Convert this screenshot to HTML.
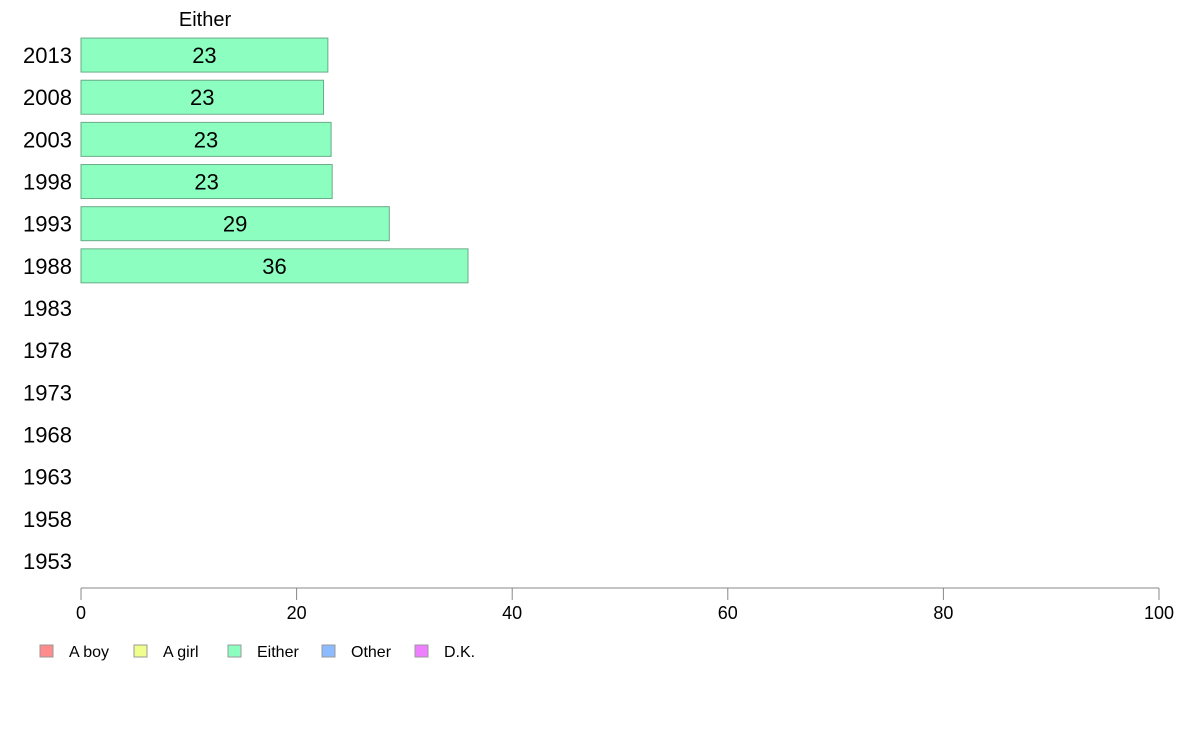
<!DOCTYPE html>
<html><head><meta charset="utf-8"><style>
body{margin:0;background:#fff;font-family:"Liberation Sans",Arial,sans-serif}
</style></head><body>
<svg width="1188" height="736" xmlns="http://www.w3.org/2000/svg" font-family="Liberation Sans, Arial, sans-serif">
<text x="205" y="26" font-size="20" text-anchor="middle">Either</text>
<g id="bars"></g><g id="ylab"></g><g id="xaxis"></g><g id="legend"></g>
</svg>
<script>
const years=["2013","2008","2003","1998","1993","1988","1983","1978","1973","1968","1963","1958","1953"];
const eitherValues=[22.9,22.5,23.2,23.3,28.6,35.9,null,null,null,null,null,null,null];
const valueLabels=["23","23","23","23","29","36","","","","","","",""];
const xTicks=[0,20,40,60,80,100];
const legendLabels=["A boy","A girl","Either","Other","D.K."];
const legendColors=["#ff8c8c","#f0ff8c","#8cffc0","#8cbcff","#ee80ff"];
const NS="http://www.w3.org/2000/svg";
const x0=81,x1=1159,yTop=34,yBot=582;
const xs=v=>x0+(x1-x0)*v/100;
const band=(yBot-yTop)/years.length;
const yc=i=>yTop+band*(i+0.5);
function mk(t,a,p){const e=document.createElementNS(NS,t);for(const k in a)e.setAttribute(k,a[k]);p.appendChild(e);return e;}
const gb=document.getElementById('bars'),gy=document.getElementById('ylab'),gx=document.getElementById('xaxis'),gl=document.getElementById('legend');
years.forEach((y,i)=>{
 const t=mk('text',{x:72,y:yc(i)+8,'font-size':22,'text-anchor':'end'},gy);t.textContent=y;
 
 
 const v=eitherValues[i];
 if(v!=null){
  const r=mk('rect',{x:xs(0),y:yc(i)-17,width:xs(v)-xs(0),height:34,fill:'#8cffc0',stroke:'#6aaa88','stroke-width':1},gb);
  
  
  const l=mk('text',{x:(xs(0)+xs(v))/2,y:yc(i)+8,'font-size':22,'text-anchor':'middle'},gb);l.textContent=valueLabels[i];
  
  
 }
});
const ax=mk('line',{x1:x0,x2:x1,y1:588,y2:588,stroke:'#888','stroke-width':1},gx);


xTicks.forEach(v=>{
 const tk=mk('line',{x1:xs(v),x2:xs(v),y1:588,y2:600,stroke:'#888'},gx);
 
 
 const t=mk('text',{x:xs(v),y:619,'font-size':18,'text-anchor':'middle'},gx);t.textContent=v;
 
 
});
const lx=[40,134,228,322,415];
legendLabels.forEach((n,i)=>{
 const s=mk('rect',{x:lx[i],y:645,width:13,height:12,fill:legendColors[i],stroke:'#999'},gl);
 
 
 const t=mk('text',{x:lx[i]+29,y:657,'font-size':16},gl);t.textContent=n;
 
 
});
</script>
</body></html>
